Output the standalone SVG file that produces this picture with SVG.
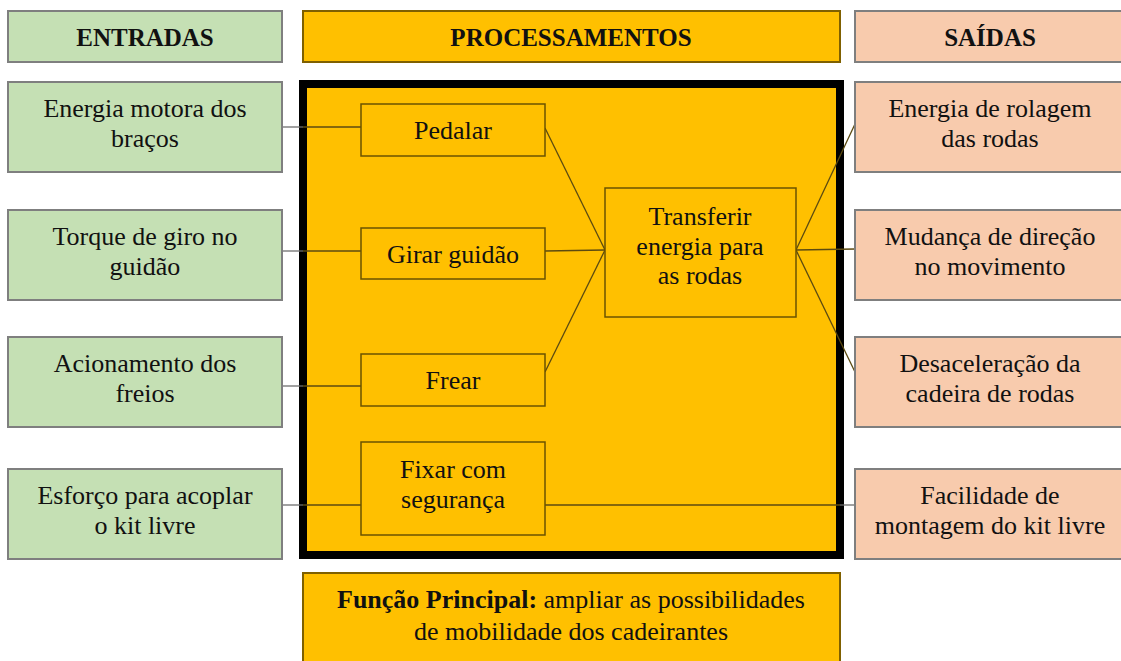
<svg xmlns="http://www.w3.org/2000/svg" width="1121" height="661" viewBox="0 0 1121 661" font-family="'Liberation Serif', Tinos, 'Times New Roman', 'Nimbus Roman', 'DejaVu Serif', serif">
<style>
text{font-family:'Liberation Serif',Tinos,'Times New Roman','Nimbus Roman','DejaVu Serif',serif;font-size:26px;fill:#111;text-anchor:middle}
.h{font-weight:bold;font-size:25px}
.b{font-weight:bold}
.in{fill:#c5e0b4;stroke:#7f7f7f;stroke-width:2}
.out{fill:#f8cbad;stroke:#7f7f7f;stroke-width:2}
.yel{fill:#ffc000;stroke:#7f6000;stroke-width:2}
.proc{fill:#ffc000;stroke:#6b5300;stroke-width:1.5}
.lin{stroke:#5c4a10;stroke-width:1.3;fill:none}
.lout{stroke:#6e6e6e;stroke-width:1.3;fill:none}
</style>
<rect width="1121" height="661" fill="#ffffff"/>
<g id="hdr-entradas"><rect class="in" x="8" y="11" width="274" height="51"/><text class="h" x="145" y="46">ENTRADAS</text></g>
<g id="hdr-processamentos"><rect class="yel" x="303" y="11" width="537" height="51"/><text class="h" x="571" y="46">PROCESSAMENTOS</text></g>
<g id="hdr-saidas"><rect class="out" x="855" y="11" width="272" height="51"/><text class="h" x="990" y="46">SAÍDAS</text></g>
<g id="process-area"><rect x="303" y="84" width="537" height="471" fill="#ffc000" stroke="#000" stroke-width="8"/></g>
<g id="connectors">
<line class="lout" x1="282" y1="127" x2="303" y2="127"/><line class="lin" x1="303" y1="127" x2="361" y2="127"/>
<line class="lout" x1="282" y1="251" x2="303" y2="251"/><line class="lin" x1="303" y1="251" x2="361" y2="251"/>
<line class="lout" x1="282" y1="386" x2="303" y2="386"/><line class="lin" x1="303" y1="386" x2="361" y2="386"/>
<line class="lout" x1="282" y1="505" x2="303" y2="505"/><line class="lin" x1="303" y1="505" x2="361" y2="505"/>
<line class="lin" x1="545" y1="505" x2="840" y2="505"/><line class="lout" x1="840" y1="505" x2="855" y2="505"/>
<line class="lin" x1="545" y1="128" x2="605" y2="250"/>
<line class="lin" x1="545" y1="251" x2="605" y2="250"/>
<line class="lin" x1="545" y1="372" x2="605" y2="250"/>
<line class="lin" x1="796" y1="250" x2="855" y2="124"/>
<line class="lin" x1="796" y1="250" x2="855" y2="249"/>
<line class="lin" x1="796" y1="250" x2="855" y2="372"/>
</g>
<g id="in1"><rect class="in" x="8" y="82" width="274" height="90"/><text x="145" y="117">Energia motora dos</text><text x="145" y="147">braços</text></g>
<g id="in2"><rect class="in" x="8" y="210" width="274" height="90"/><text x="145" y="245">Torque de giro no</text><text x="145" y="275">guidão</text></g>
<g id="in3"><rect class="in" x="8" y="337" width="274" height="90"/><text x="145" y="372">Acionamento dos</text><text x="145" y="402">freios</text></g>
<g id="in4"><rect class="in" x="8" y="469" width="274" height="90"/><text x="145" y="504">Esforço para acoplar</text><text x="145" y="534">o kit livre</text></g>
<g id="p-pedalar"><rect class="proc" x="361" y="104" width="184" height="52"/><text x="453" y="139">Pedalar</text></g>
<g id="p-girar"><rect class="proc" x="361" y="228" width="184" height="51"/><text x="453" y="263">Girar guidão</text></g>
<g id="p-frear"><rect class="proc" x="361" y="354" width="184" height="52"/><text x="453" y="389">Frear</text></g>
<g id="p-fixar"><rect class="proc" x="361" y="442" width="184" height="93"/><text x="453" y="478">Fixar com</text><text x="453" y="508">segurança</text></g>
<g id="p-transferir"><rect class="proc" x="605" y="188" width="191" height="129"/><text x="700" y="225">Transferir</text><text x="700" y="255">energia para</text><text x="700" y="284">as rodas</text></g>
<g id="out1"><rect class="out" x="855" y="82" width="272" height="90"/><text x="990" y="117">Energia de rolagem</text><text x="990" y="147">das rodas</text></g>
<g id="out2"><rect class="out" x="855" y="210" width="272" height="90"/><text x="990" y="245">Mudança de direção</text><text x="990" y="275">no movimento</text></g>
<g id="out3"><rect class="out" x="855" y="337" width="272" height="90"/><text x="990" y="372">Desaceleração da</text><text x="990" y="402">cadeira de rodas</text></g>
<g id="out4"><rect class="out" x="855" y="469" width="272" height="90"/><text x="990" y="504">Facilidade de</text><text x="990" y="534">montagem do kit livre</text></g>
<g id="funcao"><rect class="yel" x="303" y="573" width="537" height="95"/><text x="571" y="608"><tspan class="b">Função Principal:</tspan> ampliar as possibilidades</text><text x="571" y="640">de mobilidade dos cadeirantes</text></g>
</svg>
